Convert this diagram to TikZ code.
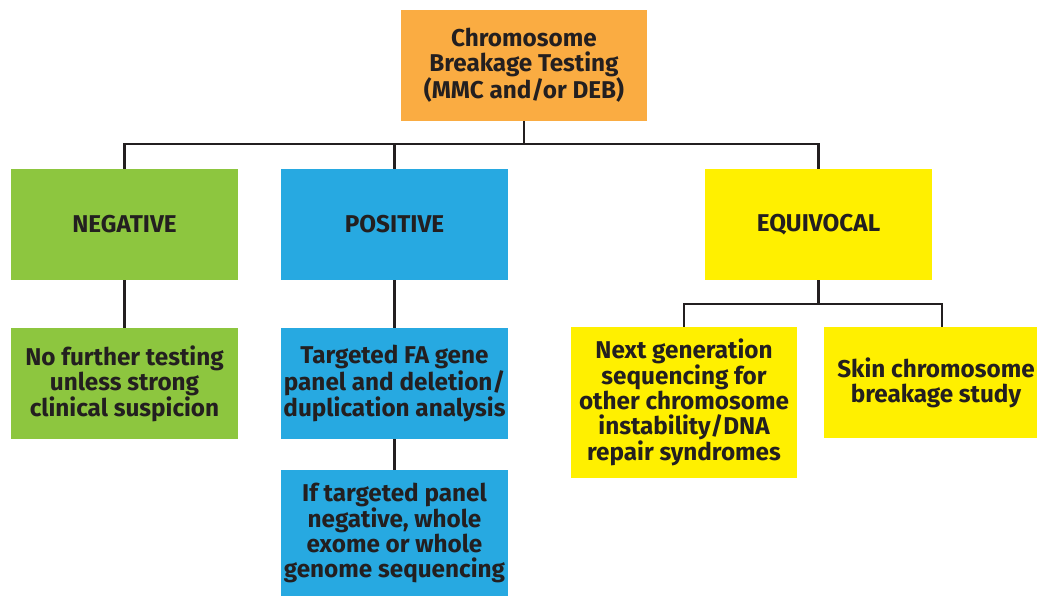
\documentclass[tikz,border=0pt]{standalone}
\usepackage{fontspec}
\setmainfont{Fira Sans}
\definecolor{cOrange}{HTML}{FAAC42}
\definecolor{cGreen}{HTML}{8DC63F}
\definecolor{cBlue}{HTML}{27A9E1}
\definecolor{cYellow}{HTML}{FFF000}
\definecolor{cText}{HTML}{231F20}
\tikzset{
  box/.style={rectangle, inner sep=0pt, align=center, text=cText,
    font=\fontsize{24.3}{25}\selectfont\bfseries},
  link/.style={draw=cText, line width=2.6pt}
}
\begin{document}
\begin{tikzpicture}[x=1pt,y=-1pt]
\useasboundingbox (0,0) rectangle (1037,596);
\node[box, fill=cOrange, minimum width=246pt, minimum height=111pt] (top) at (524,65.5)
  {Chromosome\\Breakage Testing\\(MMC and/or DEB)};
\node[box, fill=cGreen, minimum width=227pt, minimum height=111pt] (neg) at (124.5,224.5) {NEGATIVE};
\node[box, fill=cBlue, minimum width=227pt, minimum height=111pt] (pos) at (394.5,224.5) {POSITIVE};
\node[box, fill=cYellow, minimum width=227pt, minimum height=111pt] (eq) at (818.5,224.5) {EQUIVOCAL};
\node[box, fill=cGreen, minimum width=227pt, minimum height=111pt] (negc) at (124.5,383.5)
  {No further testing\\unless strong\\clinical suspicion};
\node[box, fill=cBlue, minimum width=227pt, minimum height=111pt] (posc) at (394.5,383.5)
  {Targeted FA gene\\panel and deletion/\\duplication analysis};
\node[box, fill=cBlue, minimum width=227pt, minimum height=126pt] (posd) at (394.5,533)
  {If targeted panel\\negative, whole\\exome or whole\\genome sequencing};
\node[box, fill=cYellow, minimum width=226pt, minimum height=151pt] (eqa) at (684,402.5)
  {Next generation\\sequencing for\\other chromosome\\instability/DNA\\repair syndromes};
\node[box, fill=cYellow, minimum width=224pt, minimum height=111pt] (eqb) at (936,382.5)
  {Skin chromosome\\breakage study};
\coordinate (bus) at (0,144);
\coordinate (bus2) at (0,304);
\coordinate (eqbtop) at ([xshift=6pt]eqb.north);
\draw[link] (top.south) -- (top.south |- bus);
\draw[link] (neg.north) -- (neg.north |- bus) -- (eq.north |- bus) -- (eq.north);
\draw[link] (pos.north) -- (pos.north |- bus);
\draw[link] (neg.south) -- (negc.north);
\draw[link] (pos.south) -- (posc.north);
\draw[link] (posc.south) -- (posd.north);
\draw[link] (eq.south) -- (eq.south |- bus2);
\draw[link] (eqa.north) -- (eqa.north |- bus2) -- (eqbtop |- bus2) -- (eqbtop);
\end{tikzpicture}
\end{document}
